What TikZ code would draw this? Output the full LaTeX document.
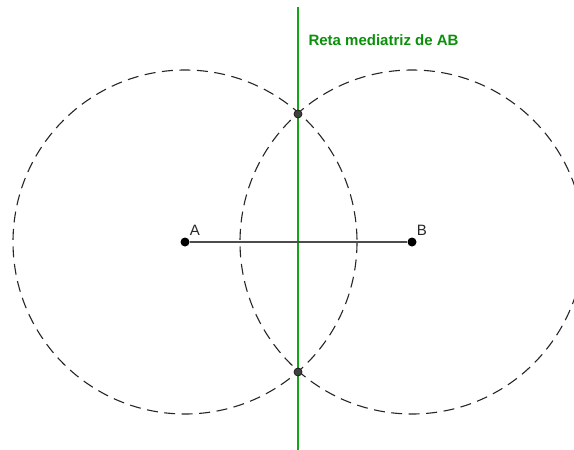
\documentclass[tikz,border=0pt]{standalone}
\usepackage{fontspec}
\setmainfont{Liberation Sans}
\usetikzlibrary{positioning}
\definecolor{mgreen}{HTML}{14A514}
\definecolor{mtext}{HTML}{0B900B}
\definecolor{mgray}{HTML}{404040}
\tikzset{
  pt/.style={circle, fill=black, inner sep=0pt, minimum size=9pt},
  cross/.style={circle, draw=black!90, fill=mgray, inner sep=0pt, minimum size=8pt, line width=0.7pt},
  arcline/.style={dash pattern=on 11pt off 6.5pt, line width=1.1pt, draw=black!85},
  seg/.style={draw=black!70, line width=1.2pt},
  bis/.style={draw=mgreen, line width=1.8pt},
  lbl/.style={font=\fontsize{15}{17}\selectfont, text=black!85}
}

\begin{document}
\begin{tikzpicture}[x=1pt, y=-1pt]
  \useasboundingbox (0,0) rectangle (574,450);
  \clip (0,0) rectangle (574,450);
  % circles of equal radius about A and B
  \draw[arcline] (185,242) circle (172);
  \draw[arcline] (412,242) circle (172);
  % perpendicular bisector
  \coordinate (top) at (298,7);
  \coordinate (bot) at (298,451);
  \draw[bis] (top) -- (bot);
  \node[pt] (A) at (185,242) {};
  \node[pt] (B) at (412,242) {};
  \draw[seg] (A) -- (B);
  \node[cross] (P) at (298,114) {};
  \node[cross] (Q) at (298,372) {};
  \node[lbl] (la) at (195,230) {A};
  \node[lbl] (lb) at (422,230) {B};
  \node[font=\bfseries\fontsize{15}{18}\selectfont, text=mtext, anchor=west] (title) at (305,40) {Reta mediatriz de AB};
\end{tikzpicture}
\end{document}
